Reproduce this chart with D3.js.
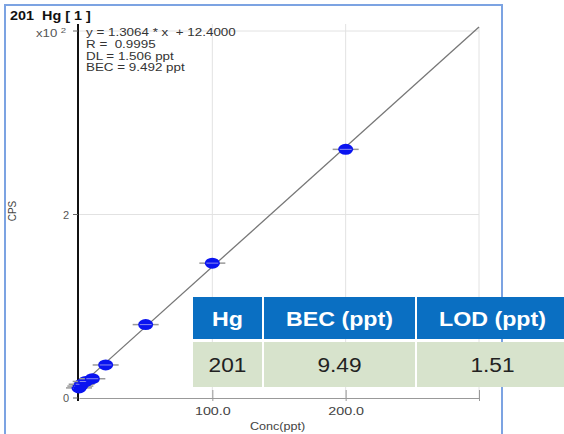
<!DOCTYPE html>
<html>
<head>
<meta charset="utf-8">
<script src="https://cdn.jsdelivr.net/npm/d3@7"></script>
<style>
  body { margin: 0; background: #fff; }
  svg { display: block; font-family: 'Liberation Sans', Arial, sans-serif; }
  text { white-space: pre; }
</style>
</head>
<body>
<svg width="564" height="434"></svg>
<script>
// calibration standards (ppt) and measured counts (cps)
const concs = [0, 1, 2, 5, 10, 20, 50, 100, 200];
const counts = [11, 13, 15, 18, 21, 36, 80, 147, 271];

// fit results printed on the chart
const slope = 1.3064;
const intercept = 12.4;
const fitLines = ['y = 1.3064 * x  + 12.4000', 'R =  0.9995', 'DL = 1.506 ppt', 'BEC = 9.492 ppt'];

const xTicks = [100, 200, 300];
const yTicks = [0, 200, 400];

// summary table
const tableHead = ['Hg', 'BEC (ppt)', 'LOD (ppt)'];
const tableRow = ['201', '9.49', '1.51'];

(function () {
  'use strict';

  const svg = d3.select('svg');

  // text in the source picture is stretched sideways
  const wideText = (sel, x, y, sx) =>
    sel.attr('transform', `translate(${x},${y}) scale(${sx},1)`);

  // outer frame
  svg.append('rect')
    .attr('x', 5).attr('y', 5)
    .attr('width', 497).attr('height', 450)
    .attr('fill', 'none')
    .attr('stroke', '#7ca3e2')
    .attr('stroke-width', 2);

  svg.append('text')
    .call(wideText, 10, 20, 1.2)
    .attr('font-size', 12)
    .attr('font-weight', 'bold')
    .attr('fill', '#111')
    .text('201  Hg [ 1 ]');

  const x = d3.scaleLinear().domain([0, 300]).range([79, 479]);
  const y = d3.scaleLinear().domain([0, 400]).range([398, 31]);

  const g = svg.append('g');

  // grid
  g.selectAll('.vgrid').data(xTicks).enter()
    .append('line')
      .attr('x1', d => x(d)).attr('x2', d => x(d))
      .attr('y1', d => d === 300 ? 27 : 24).attr('y2', y(0))
      .attr('stroke', '#e2e2e2');
  g.selectAll('.hgrid').data(yTicks.slice(1)).enter()
    .append('line')
      .attr('x1', x(0)).attr('x2', x(300))
      .attr('y1', d => y(d)).attr('y2', d => y(d))
      .attr('stroke', '#e2e2e2');

  // x axis
  const xAxisG = g.append('g')
    .attr('transform', `translate(0,${y(0)})`)
    .call(d3.axisBottom(x).tickValues(xTicks).tickSize(3).tickSizeOuter(0)
      .tickFormat(d => d === 300 ? '' : d.toFixed(1)));
  xAxisG.select('.domain').attr('stroke', '#999');
  xAxisG.selectAll('.tick line').attr('y1', -8).attr('stroke', '#999');
  xAxisG.selectAll('.tick text')
    .attr('font-family', 'Liberation Sans, Arial, sans-serif')
    .attr('font-size', 11).attr('fill', '#444')
    .attr('y', 17).attr('dy', null)
    .attr('transform', 'scale(1.3,1)');

  g.append('text')
    .call(wideText, 250, 430, 1.2)
    .attr('font-size', 10.5).attr('fill', '#444')
    .text('Conc(ppt)');

  // y axis
  g.append('line')
    .attr('x1', 78).attr('x2', 78)
    .attr('y1', 24).attr('y2', 401)
    .attr('stroke', '#111').attr('stroke-width', 2);
  g.selectAll('.ytick').data(yTicks).enter()
    .append('line')
      .attr('x1', 73).attr('x2', 78)
      .attr('y1', d => y(d)).attr('y2', d => y(d))
      .attr('stroke', '#666');
  g.selectAll('.ylab').data(yTicks.slice(0, 2)).enter()
    .append('text')
      .attr('x', 69).attr('y', d => y(d) + 4)
      .attr('text-anchor', 'end')
      .attr('font-size', 11).attr('fill', '#555')
      .text(d => d / 100);
  const mult = g.append('text')
    .call(wideText, 36, 37, 1.2)
    .attr('font-size', 11).attr('fill', '#555');
  mult.append('tspan').text('x10');
  mult.append('tspan').attr('dx', 3).attr('dy', -4).attr('font-size', 8).text('2');

  g.append('text')
    .attr('transform', 'translate(16,211) rotate(-90)')
    .attr('text-anchor', 'middle')
    .attr('font-size', 10).attr('fill', '#444')
    .text('CPS');

  // fit text
  g.selectAll('.fit').data(fitLines).enter()
    .append('text')
      .each(function (d, i) { d3.select(this).call(wideText, 86, 36 + i * 11.8, 1.22); })
      .attr('font-size', 11).attr('fill', '#333')
      .text(d => d);

  // regression line
  g.append('line')
    .attr('x1', x(0)).attr('y1', y(intercept))
    .attr('x2', x(300)).attr('y2', y(slope * 300 + intercept))
    .attr('stroke', '#777').attr('stroke-width', 1.3);

  // standards
  const pts = g.selectAll('.pt').data(concs).enter()
    .append('g')
      .attr('transform', (d, i) => `translate(${x(d)},${y(counts[i])})`);
  pts.append('line')
    .attr('x1', -13).attr('x2', 13)
    .attr('stroke', '#999').attr('stroke-width', 1.5);
  pts.append('ellipse')
    .attr('rx', 7.5).attr('ry', 5.5)
    .attr('fill', '#0a14f0');
  pts.append('line')
    .attr('x1', -6).attr('x2', 6)
    .attr('stroke', '#8a8af0').attr('stroke-width', 1);

  // table overlay
  const colX = [193, 264, 417];
  const colW = [69, 151, 151];
  const tg = svg.append('g');
  tg.selectAll('.hcell').data(tableHead).enter()
    .append('rect')
      .attr('x', (d, i) => colX[i]).attr('y', 297)
      .attr('width', (d, i) => colW[i]).attr('height', 42)
      .attr('fill', '#0a6fc2');
  tg.selectAll('.bcell').data(tableRow).enter()
    .append('rect')
      .attr('x', (d, i) => colX[i]).attr('y', 342)
      .attr('width', (d, i) => colW[i]).attr('height', 45)
      .attr('fill', '#d7e3cc');
  tg.selectAll('.htext').data(tableHead).enter()
    .append('text')
      .each(function (d, i) { d3.select(this).call(wideText, colX[i] + colW[i] / 2, 326, 1.16); })
      .attr('text-anchor', 'middle')
      .attr('font-size', 20).attr('font-weight', 'bold').attr('fill', '#fff')
      .text(d => d);
  tg.selectAll('.btext').data(tableRow).enter()
    .append('text')
      .each(function (d, i) { d3.select(this).call(wideText, colX[i] + colW[i] / 2, 372, 1.08); })
      .attr('text-anchor', 'middle')
      .attr('font-size', 21).attr('fill', '#222')
      .text(d => d);
}());
</script>
</body>
</html>
